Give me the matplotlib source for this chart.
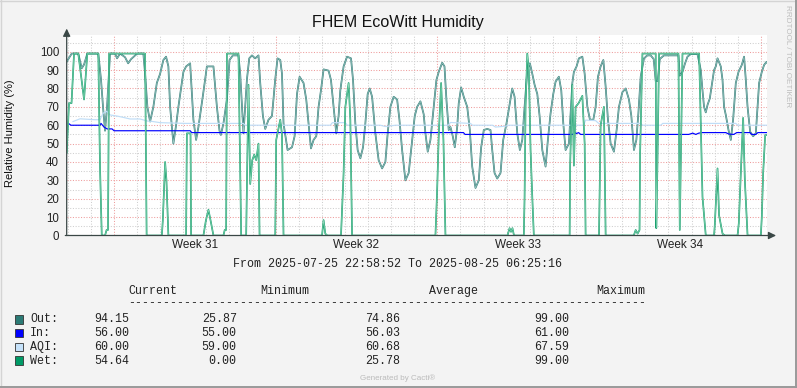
import matplotlib.pyplot as plt
from matplotlib.lines import Line2D
from matplotlib.patches import Rectangle

# time axis: hours since 2025-07-26 00:00 (graph runs from -1.02 h to 726.4 h)
t_start, t_end = -1.02, 726.4

out_t = [-1.0, 4.2, 11.0, 14.6, 17.0, 20.4, 31.8, 34.6, 36.7, 38.8,
         40.9, 44.0, 49.2, 51.3, 54.4, 59.6, 62.8, 65.9, 72.2, 78.6,
         80.4, 82.8, 85.6, 89.0, 92.6, 96.0, 99.4, 102.2, 104.6, 106.4,
         109.8, 112.6, 115.0, 120.2, 123.0, 127.2, 130.6, 133.4, 135.8, 140.7,
         144.6, 151.4, 155.0, 157.7, 159.1, 161.8, 165.4, 168.1, 171.6, 177.4,
         179.2, 182.6, 186.2, 188.6, 191.4, 194.8, 198.2, 200.0, 202.8, 205.2,
         208.6, 212.2, 215.6, 218.0, 220.8, 222.6, 224.2, 228.4, 233.0, 235.7,
         238.2, 240.9, 245.0, 247.8, 250.2, 252.7, 255.4, 258.2, 260.6, 263.1,
         265.8, 271.0, 273.5, 276.2, 279.0, 281.4, 283.2, 286.6, 290.2, 294.3,
         296.4, 298.8, 301.2, 304.0, 306.8, 309.2, 311.6, 313.7, 316.2, 319.6,
         323.0, 326.6, 330.0, 332.4, 335.2, 338.6, 342.2, 344.6, 347.4, 350.8,
         354.2, 357.8, 360.5, 363.0, 366.4, 369.8, 371.6, 374.0, 376.8, 380.2,
         383.0, 385.4, 389.0, 391.4, 393.4, 395.8, 397.6, 400.0, 402.1, 404.6,
         406.2, 408.7, 411.4, 415.0, 417.7, 420.2, 423.6, 427.0, 429.5, 432.2,
         435.8, 439.2, 441.0, 443.4, 446.2, 449.6, 452.4, 455.8, 459.3, 461.8,
         464.2, 467.0, 469.7, 472.2, 474.6, 477.4, 480.1, 482.6, 485.0, 487.8,
         490.2, 493.0, 496.4, 498.8, 501.6, 504.4, 506.8, 510.2, 512.7, 514.8,
         517.2, 520.6, 524.2, 525.8, 528.6, 531.0, 534.6, 537.0, 539.8, 542.5,
         546.0, 548.4, 550.8, 553.6, 556.4, 558.8, 561.2, 564.0, 567.4, 570.2,
         572.6, 576.2, 579.6, 583.0, 585.5, 588.2, 590.7, 592.8, 595.2, 598.6,
         602.2, 605.6, 608.7, 610.8, 612.9, 615.0, 619.4, 634.4, 635.8, 638.6,
         641.3, 643.8, 647.2, 654.2, 657.6, 659.4, 661.0, 662.8, 664.6, 667.0,
         669.8, 671.4, 673.2, 675.0, 678.4, 680.2, 681.8, 683.6, 686.4, 688.8,
         691.2, 694.0, 696.8, 700.2, 702.6, 704.4, 706.2, 708.9, 712.0, 714.8,
         716.6, 718.2, 721.0, 723.4, 725.9, 726.4]
out_v = [94.6, 99, 99, 91, 93, 99, 99, 85, 70, 57,
         70, 99, 99, 96.4, 99, 97, 93.7, 96, 99, 99,
         88, 70, 62, 70, 83, 88, 95.5, 97.3, 92, 70,
         50, 60, 70, 89, 92, 93.7, 63, 52, 59, 77,
         92, 92, 70, 57, 54.7, 61, 74, 95.5, 98, 98,
         88, 55.6, 85, 96.4, 98, 96.4, 98, 83, 65, 58,
         63, 65, 85, 96.4, 95.5, 88, 61, 46.5, 48, 54,
         77, 86.4, 83, 74, 61, 47.4, 52, 54, 70, 79,
         90.4, 89.7, 84.6, 70, 55.6, 65, 79, 92, 97.3, 96.4,
         84.6, 61, 46.5, 42, 48, 61, 77, 80, 75.5, 55.6,
         41, 36.5, 40, 55.6, 70, 75.5, 74, 63, 46.5, 30,
         34, 52, 65, 70, 73, 66, 55.6, 45.6, 52, 70,
         84.6, 89, 94, 92, 74, 57.4, 59, 54, 48, 59,
         72, 80.6, 75.5, 70, 57.4, 37.5, 25.87, 30, 48, 57.4,
         58, 57.4, 46.5, 34, 31, 34, 52, 61, 72, 80,
         75.5, 55.6, 46.5, 52, 70, 90, 93.7, 88, 82, 77,
         65, 46.5, 37.5, 52, 66.5, 77, 83.7, 86.4, 79, 61,
         46.5, 50, 83, 89, 92, 96.4, 97.3, 88, 70, 63,
         63, 70, 86.4, 92, 95.5, 81, 63, 50, 45.6, 57.4,
         70, 78, 80, 74, 65, 46.5, 52, 66.5, 86.4, 96.4,
         98, 98, 96, 84, 84, 96, 98, 98, 87, 89,
         93.7, 97.3, 98.7, 98.7, 90, 79, 70, 67, 71, 74.6,
         84.6, 90, 92, 96.4, 92, 84.6, 70, 65.6, 57.4, 52,
         63, 83, 89, 92.8, 97.3, 84.6, 70, 56.5, 54, 55.6,
         70, 83, 89, 92.8, 94.5, 94.15]

in_t = [0.8, 3.4, 33.6, 34.6, 37.8, 40.9, 46.1, 48.2, 127.2, 128.8,
        411.1, 412.7, 524.5, 526.6, 528.6, 530.7, 532.8, 645.1, 649.3, 652.4,
        655.5, 659.2, 683.6, 686.7, 691.9, 695.0, 708.6, 710.6, 714.8, 716.9,
        726.4]
in_v = [61, 60, 60, 61, 59, 58, 58, 57, 57, 56,
        56, 55, 55, 56, 55.5, 56, 55, 55, 55.7, 55,
        55.7, 56, 56, 55.2, 55, 56, 56, 55, 55, 56,
        56]

aqi_t = [5.5, 12.8, 28.4, 33.6, 36.7, 40.6, 44.0, 51.3, 57.5, 64.8,
         75.2, 82.5, 88.7, 96.0, 122.0, 182.3, 184.4, 272.8, 274.9, 288.4,
         290.5, 324.8, 330.0, 340.4, 395.5, 397.6, 418.4, 420.5, 441.3, 444.4,
         454.8, 458.0, 536.0, 538.0, 548.4, 551.5, 595.2, 597.3, 616.0, 618.1,
         694.0, 696.0, 726.4]
aqi_v = [62, 63.5, 63, 63, 66.5, 67.59, 65.6, 65, 64.3, 63.4,
         63.4, 62.3, 62, 61.4, 61, 61, 60, 60, 61.4, 61.4,
         60, 60, 59.3, 60, 60, 61.5, 61, 60, 60, 59,
         59.5, 60, 60, 62.8, 62.5, 61, 61, 60, 60, 61,
         61, 60, 60]

wet_t = [-1.0, 1.4, 4.0, 6.6, 11.0, 17.0, 20.4, 31.8, 33.6, 35.4,
         38.8, 40.4, 41.9, 43.0, 80.4, 82.0, 97.8, 98.8, 101.2, 102.6,
         104.6, 123.0, 123.8, 127.6, 128.2, 141.0, 143.5, 146.2, 148.5, 151.4,
         161.8, 163.1, 164.6, 165.4, 177.4, 180.2, 185.4, 186.2, 187.8, 189.6,
         191.7, 193.8, 195.8, 198.2, 199.3, 215.6, 216.6, 220.8, 222.6, 224.2,
         264.2, 265.8, 267.6, 269.7, 283.9, 286.6, 288.4, 291.8, 293.6, 295.4,
         382.0, 383.8, 385.4, 387.9, 390.3, 392.4, 456.9, 459.0, 460.5, 462.0,
         463.6, 473.8, 474.6, 475.6, 477.4, 479.0, 480.8, 482.6, 484.2, 521.4,
         521.9, 524.2, 525.8, 527.6, 530.7, 534.6, 537.0, 538.0, 551.9, 553.6,
         557.0, 558.8, 588.0, 590.0, 592.0, 594.0, 594.6, 597.0, 610.8, 611.4,
         612.6, 614.3, 634.4, 635.8, 638.6, 655.9, 659.4, 662.8, 671.4, 672.1,
         675.0, 676.6, 680.2, 682.6, 695.8, 697.1, 699.2, 701.6, 703.4, 706.2,
         720.0, 721.0, 722.4, 724.5, 726.4]
wet_v = [45, 72, 72, 99, 99, 74, 99, 99, 37, 0,
         0, 3, 3, 99, 99, 0, 0, 8, 40, 30,
         0, 0, 55.6, 55.6, 0, 0, 8, 14, 8, 0,
         0, 3, 3, 99, 99, 0, 0, 28, 82, 28,
         41, 44, 41, 50, 0, 0, 52, 63, 55, 0,
         0, 8.4, 1, 0, 0, 34, 70, 83, 63, 0,
         0, 25, 54, 83, 52, 0, 0, 4, 2, 4,
         0, 0, 21, 70, 99, 90, 46.5, 21, 0, 0,
         38, 82, 38, 70, 72, 76, 50, 0, 0, 60,
         70, 0, 0, 3, 1, 3, 45, 99, 99, 4,
         39, 99, 99, 3, 99, 99, 21, 0, 0, 5,
         36.5, 11, 1, 0, 0, 6.6, 34, 64, 30, 0,
         0, 10, 34, 54.6, 54.64]

# legend table
names = ['Out:', 'In:', 'AQI:', 'Wet:']
current = ['94.15', '56.00', '60.00', '54.64']
minimum = ['25.87', '55.00', '59.00', '0.00']
average = ['74.86', '56.03', '60.68', '25.78']
maximum = ['99.00', '61.00', '67.59', '99.00']
swatch = ['#2B7A75', '#0000FF', '#C6E2FA', '#009A66']

week_pos = [132, 300, 468, 636]
week_labels = ['Week 31', 'Week 32', 'Week 33', 'Week 34']

W, H = 797, 388
def fx(x):
    return x / W
def fy(y):
    return 1 - y / H

sans = 'Liberation Sans'
mono = 'Liberation Mono'

fig = plt.figure(figsize=(W / 100, H / 100), dpi=100, facecolor='#F3F3F3')

# 3d style frame
fig.add_artist(Line2D([0.5 / W, 0.5 / W], [0, 1], color='#D4D4D4', lw=1))
fig.add_artist(Line2D([0, 1], [1 - 0.5 / H, 1 - 0.5 / H], color='#D4D4D4', lw=1))
fig.add_artist(Line2D([1 - 1 / W, 1 - 1 / W], [0, 1], color='#999999', lw=1.4))
fig.add_artist(Line2D([0, 1], [1 / H, 1 / H], color='#999999', lw=1.4))

ax = fig.add_axes([fx(66.7), fy(235.5), 700.3 / W, 200.5 / H])
ax.set_facecolor('white')
ax.set_xlim(t_start, t_end)
ax.set_ylim(0, 109.1)
for s in ax.spines.values():
    s.set_visible(False)

# grid: grey every day / every 5, red every week / every 10
dot = (0, (1, 1.6))
for h in range(0, 727, 24):
    major = (h - 48) % 168 == 0
    ax.axvline(h, color='#EE9C9C' if major else '#CFCFCF', lw=0.75, ls=dot, zorder=1)
for v in range(5, 110, 5):
    major = v % 10 == 0
    ax.axhline(v, color='#EE9C9C' if major else '#CFCFCF', lw=0.75, ls=dot, zorder=1)

# series (two strokes to mimic the gradient line)
ax.plot(out_t, out_v, color='#3A807B', lw=1.25, zorder=3)
ax.plot(out_t, out_v, color='#9CCAC5', lw=0.45, zorder=3)
ax.plot(aqi_t, aqi_v, color='#BFDDF7', lw=0.85, zorder=4)
ax.plot(in_t, in_v, color='#0000FF', lw=0.85, zorder=5)
ax.plot(wet_t, wet_v, color='#159D6C', lw=1.2, zorder=6)
ax.plot(wet_t, wet_v, color='#8FD9B8', lw=0.45, zorder=6)

# axes with arrows
axis_col = '#3A4746'
ax.annotate('', xy=(0, 1.032), xytext=(0, 0), xycoords='axes fraction',
            arrowprops=dict(arrowstyle='-|>,head_length=0.45,head_width=0.22',
                            color=axis_col, lw=0.9, shrinkA=0, shrinkB=0),
            annotation_clip=False, zorder=8)
ax.annotate('', xy=(1.013, 0), xytext=(-0.002, 0), xycoords='axes fraction',
            arrowprops=dict(arrowstyle='-|>,head_length=0.45,head_width=0.22',
                            color=axis_col, lw=0.9, shrinkA=0, shrinkB=0),
            annotation_clip=False, zorder=8)

ax.set_yticks(range(0, 101, 10))
ax.set_yticklabels([str(v) for v in range(0, 101, 10)], fontfamily=sans, fontsize=8.3, color='#222222')
ax.set_xticks(week_pos)
ax.set_xticklabels(week_labels, fontfamily=sans, fontsize=8.5, color='#222222')
ax.tick_params(axis='y', length=0, pad=5.5)
ax.tick_params(axis='x', length=0, pad=2.5)

# labels and title
fig.text(fx(398), fy(22), 'FHEM EcoWitt Humidity', fontfamily=sans, fontsize=11.5,
         color='#111111', ha='center', va='center')
fig.text(fx(10.5), fy(133), 'Relative Humidity (%)', fontfamily=sans, fontsize=8,
         color='#111111', ha='center', va='center', rotation=90)
fig.text(fx(788), fy(56), 'RRDTOOL / TOBI OETIKER', fontfamily=sans, fontsize=5.9,
         color='#BDBDBD', ha='center', va='center', rotation=270)

# legend block
fs = 8.4
fig.text(fx(397.5), fy(264), 'From 2025-07-25 22:58:52 To 2025-08-25 06:25:16',
         fontfamily=mono, fontsize=fs, color='#222222', ha='center', va='center')
for label, x in zip(['Current', 'Minimum', 'Average', 'Maximum'], [128.3, 260.7, 429.3, 596.7]):
    fig.text(fx(x), fy(291), label, fontfamily=mono, fontsize=fs, color='#222222', va='center')
fig.text(fx(128.3), fy(303), '-' * 74, fontfamily=mono, fontsize=fs, color='#222222', va='center')

row_y = [319.5, 333, 347, 360.5]
for i in range(4):
    y = row_y[i]
    fig.add_artist(Rectangle((fx(15.3), fy(y + 4.3)), 8 / W, 8.6 / H, facecolor=swatch[i],
                             edgecolor='#333333', lw=0.6, transform=fig.transFigure))
    fig.text(fx(30), fy(y), names[i], fontfamily=mono, fontsize=fs, color='#222222', va='center')
    for col, x in zip([current, minimum, average, maximum], [129.5, 236.7, 400.5, 569.3]):
        fig.text(fx(x), fy(y), col[i], fontfamily=mono, fontsize=fs, color='#222222',
                 va='center', ha='right')

fig.text(fx(398), fy(378), 'Generated by Cacti®', fontfamily=sans, fontsize=5.8,
         color='#BBBBBB', ha='center', va='center')

plt.savefig('out.png', dpi=100, facecolor=fig.get_facecolor())
